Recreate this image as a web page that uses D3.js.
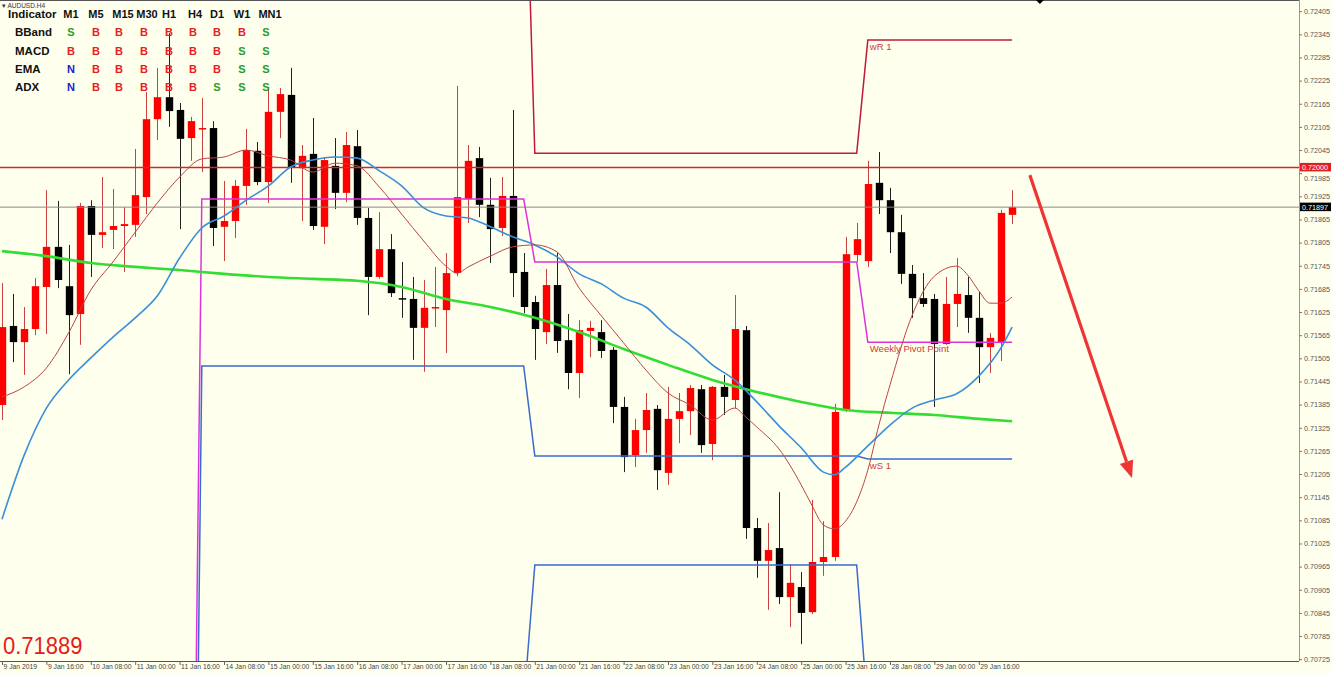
<!DOCTYPE html>
<html><head><meta charset="utf-8">
<script src="https://cdn.jsdelivr.net/npm/d3@7"></script>
<style>html,body{margin:0;padding:0;background:#ffffee;} svg{display:block}</style>
</head><body><svg id="c" width="1332" height="674"></svg>
<script>
// ---------------- DATA ----------------
const symbol = "AUDUSD.H4";
const timeLabels = ["9 Jan 2019","9 Jan 16:00","10 Jan 08:00","11 Jan 00:00","11 Jan 16:00","14 Jan 08:00","15 Jan 00:00","15 Jan 16:00","16 Jan 08:00","17 Jan 00:00","17 Jan 16:00","18 Jan 08:00","21 Jan 00:00","21 Jan 16:00","22 Jan 08:00","23 Jan 00:00","23 Jan 16:00","24 Jan 08:00","25 Jan 00:00","25 Jan 16:00","28 Jan 08:00","29 Jan 00:00","29 Jan 16:00"];
const labelBars = [0,4,8,12,16,20,24,28,32,36,40,44,48,52,56,60,64,68,72,76,80,84,88];
const priceTicks = [0.72405,0.72345,0.72285,0.72225,0.72165,0.72105,0.72045,0.71985,0.71925,0.71865,0.71805,0.71745,0.71685,0.71625,0.71565,0.71505,0.71445,0.71385,0.71325,0.71265,0.71205,0.71145,0.71085,0.71025,0.70965,0.70905,0.70845,0.70785,0.70725];

const open  = [0.71384,0.71589,0.71547,0.71581,0.71690,0.71794,0.71692,0.71620,0.71900,0.71825,0.71838,0.71848,0.71851,0.71923,0.72125,0.72182,0.72149,0.72076,0.72100,0.72102,0.71846,0.71861,0.71952,0.72043,0.71962,0.72144,0.72188,0.71998,0.72035,0.71846,0.72004,0.71934,0.72055,0.71869,0.71716,0.71788,0.71661,0.71659,0.71584,0.71636,0.71630,0.71726,0.71918,0.72024,0.71903,0.71843,0.71926,0.71729,0.71651,0.71573,0.71695,0.71552,0.71467,0.71576,0.71573,0.71527,0.71379,0.71254,0.71319,0.71374,0.71208,0.71348,0.71368,0.71425,0.71283,0.71431,0.71397,0.71578,0.71065,0.70980,0.71013,0.70886,0.70912,0.70847,0.70977,0.70990,0.71371,0.71773,0.71757,0.71960,0.71915,0.71832,0.71724,0.71661,0.71659,0.71542,0.71646,0.71669,0.71610,0.71534,0.71545,0.71877];
const high  = [0.71700,0.71672,0.71638,0.71713,0.71941,0.71913,0.71799,0.71908,0.71915,0.71975,0.71944,0.71897,0.72048,0.72195,0.72258,0.72348,0.72167,0.72131,0.72180,0.72120,0.71965,0.71967,0.72100,0.72066,0.72208,0.72206,0.72258,0.72058,0.72128,0.72027,0.72076,0.72092,0.72097,0.71895,0.71884,0.71827,0.71755,0.71716,0.71708,0.71742,0.71778,0.72211,0.72058,0.72053,0.71973,0.71975,0.72149,0.71778,0.71667,0.71737,0.71778,0.71620,0.71604,0.71602,0.71604,0.71534,0.71405,0.71348,0.71415,0.71384,0.71431,0.71415,0.71436,0.71436,0.71433,0.71462,0.71669,0.71589,0.71091,0.71078,0.71158,0.70972,0.70951,0.71138,0.71083,0.71387,0.71820,0.71856,0.72017,0.72040,0.71947,0.71877,0.71747,0.71726,0.71672,0.71716,0.71765,0.71716,0.71677,0.71571,0.71890,0.71941];
const low   = [0.71345,0.71495,0.71462,0.71565,0.71568,0.71687,0.71464,0.71540,0.71716,0.71791,0.71788,0.71729,0.71820,0.71879,0.72071,0.72105,0.71840,0.72017,0.71988,0.71796,0.71757,0.71817,0.71903,0.71954,0.71908,0.72076,0.71960,0.71861,0.71838,0.71801,0.71892,0.71910,0.71851,0.71617,0.71711,0.71664,0.71610,0.71501,0.71470,0.71586,0.71519,0.71718,0.71856,0.71871,0.71752,0.71822,0.71664,0.71622,0.71501,0.71542,0.71519,0.71425,0.71402,0.71508,0.71506,0.71337,0.71210,0.71223,0.71260,0.71164,0.71177,0.71285,0.71306,0.71260,0.71241,0.71358,0.71376,0.71037,0.70936,0.70853,0.70868,0.70808,0.70764,0.70842,0.70941,0.70980,0.71366,0.71755,0.71742,0.71879,0.71778,0.71698,0.71610,0.71638,0.71379,0.71540,0.71586,0.71571,0.71441,0.71467,0.71498,0.71853];
const close = [0.71586,0.71547,0.71581,0.71692,0.71794,0.71708,0.71617,0.71900,0.71825,0.71832,0.71848,0.71853,0.71928,0.72125,0.72182,0.72146,0.72074,0.72120,0.72102,0.71843,0.71861,0.71952,0.72045,0.71962,0.72144,0.72190,0.72001,0.72030,0.71848,0.72019,0.71934,0.72058,0.71869,0.71716,0.71788,0.71674,0.71659,0.71584,0.71636,0.71638,0.71726,0.71923,0.72017,0.71903,0.71840,0.71926,0.71726,0.71638,0.71581,0.71695,0.71550,0.71467,0.71578,0.71584,0.71524,0.71379,0.71249,0.71319,0.71371,0.71215,0.71348,0.71368,0.71428,0.71280,0.71431,0.71405,0.71581,0.71065,0.70980,0.71008,0.70886,0.70923,0.70845,0.70977,0.70990,0.71366,0.71775,0.71814,0.71957,0.71915,0.71832,0.71724,0.71661,0.71646,0.71542,0.71646,0.71672,0.71610,0.71534,0.71558,0.71882,0.71897];

// moving averages: [bar, price]
const maSlow = [[0,0.71783],[4,0.71770],[8,0.71752],[12,0.71742],[16,0.71734],[20,0.71724],[24,0.71716],[28,0.71711],[32,0.71706],[36,0.71690],[40,0.71659],[44,0.71638],[48,0.71610],[52,0.71573],[56,0.71529],[60,0.71488],[64,0.71449],[68,0.71418],[72,0.71392],[76,0.71371],[80,0.71364],[84,0.71358],[88,0.71348],[91,0.71342]];
const maMid = [[0,0.71088],[2,0.71254],[4,0.71376],[6,0.71449],[8,0.71506],[10,0.71560],[12,0.71610],[14,0.71667],[16,0.71765],[18,0.71843],[20,0.71874],[22,0.71915],[24,0.71952],[26,0.72001],[28,0.72019],[30,0.72027],[32,0.72024],[34,0.71991],[36,0.71952],[38,0.71895],[40,0.71874],[42,0.71869],[44,0.71846],[46,0.71820],[48,0.71799],[50,0.71768],[52,0.71724],[54,0.71698],[56,0.71661],[58,0.71638],[60,0.71584],[62,0.71540],[64,0.71488],[66,0.71449],[68,0.71392],[70,0.71330],[72,0.71273],[74,0.71210],[75,0.71203],[76,0.71223],[78,0.71278],[80,0.71332],[82,0.71376],[84,0.71397],[86,0.71413],[88,0.71459],[90,0.71532],[91,0.71586]];
const maFast = [[0,0.71405],[2,0.71431],[4,0.71480],[6,0.71571],[8,0.71682],[10,0.71755],[12,0.71832],[14,0.71908],[16,0.71975],[18,0.72022],[20,0.72027],[22,0.72045],[24,0.72030],[26,0.72019],[28,0.71988],[30,0.72011],[32,0.72004],[34,0.71949],[36,0.71879],[38,0.71809],[40,0.71744],[41,0.71726],[42,0.71742],[44,0.71770],[46,0.71794],[48,0.71799],[50,0.71781],[52,0.71687],[54,0.71615],[56,0.71545],[58,0.71475],[60,0.71415],[62,0.71384],[64,0.71345],[66,0.71376],[67,0.71353],[68,0.71327],[70,0.71270],[72,0.71177],[73,0.71122],[74,0.71073],[75,0.71063],[76,0.71083],[77,0.71133],[78,0.71215],[79,0.71332],[80,0.71436],[82,0.71617],[84,0.71718],[86,0.71744],[87,0.71721],[88,0.71680],[89,0.71648],[90,0.71648],[91,0.71664]];

// weekly pivot levels (week bar ranges)
const weekStart = [0,18,48,78];
const weekEnd   = [17,47,77,91];
const wR1    = [null,0.73000,0.72037,0.72330];
const wPivot = [0.69500,0.71918,0.71755,0.71547];
const wS1    = [0.69000,0.71485,0.71252,0.71244];
const wS2    = [null,0.70610,0.70969,0.70590];

const roundLevel = 0.72000;
const bidPrice = 0.71897;
const bigPrice = "0.71889";
const arrowFrom = [92.6, 0.71980];
const arrowTo   = [101.8, 0.71195];
const shiftMarkBar = 93.5;

const indCols = ["M1","M5","M15","M30","H1","H4","D1","W1","MN1"];
const indRows = ["BBand","MACD","EMA","ADX"];
const indSignals = [
  ["S","B","B","B","B","B","B","B","S"],
  ["B","B","B","B","B","B","B","S","S"],
  ["N","B","B","B","B","B","B","S","S"],
  ["N","B","B","B","B","B","S","S","S"]
];

// ---------------- LAYOUT ----------------
const W = 1332, H = 674, plotR = 1299, plotB = 661;
const svg = d3.select("#c");
const FONT = "'Liberation Sans', Arial, sans-serif";
svg.append("rect").attr("width",W).attr("height",H).attr("fill","#ffffee");

const x = d3.scaleLinear().domain([0,91]).range([2, 1012.1]);
const y = d3.scaleLinear().domain([0.707203, 0.72434]).range([plotB, 0]);

svg.append("defs").append("clipPath").attr("id","clip")
  .append("rect").attr("x",0).attr("y",0).attr("width",plotR).attr("height",plotB);
const plot = svg.append("g").attr("clip-path","url(#clip)");

// candles
const bars = d3.range(open.length);
const cg = plot.append("g");
bars.forEach(i => {
  const bull = close[i] >= open[i];
  const cx = Math.round(x(i)) + 0.5;
  cg.append("line").attr("x1",cx).attr("x2",cx)
    .attr("y1",y(high[i])).attr("y2",y(low[i]))
    .attr("stroke", bull ? "#cc4040" : "#222").attr("stroke-width",1);
  const top = y(Math.max(open[i],close[i])), bot = y(Math.min(open[i],close[i]));
  cg.append("rect").attr("x",cx-3.7).attr("width",7.4)
    .attr("y",top).attr("height",Math.max(1.5,bot-top))
    .attr("fill", bull ? "#ff0000" : "#000000");
});

// horizontal levels
plot.append("line").attr("x1",0).attr("x2",plotR).attr("y1",y(roundLevel)).attr("y2",y(roundLevel))
  .attr("stroke","#cc2a2a").attr("stroke-width",1.5);
plot.append("line").attr("x1",0).attr("x2",plotR).attr("y1",y(bidPrice)).attr("y2",y(bidPrice))
  .attr("stroke","#8a8a8a").attr("stroke-width",1);

// pivot lines
function pivotPts(vals){
  const pts = [];
  vals.forEach((v,w)=>{ pts.push([weekStart[w],v]); pts.push([weekEnd[w],v]); });
  return pts;
}
const pline = d3.line().defined(d=>d[1]!=null).x(d=>x(d[0])).y(d=>y(d[1]));
[[wR1,"#bf1a3c"],[wPivot,"#dd33dd"],[wS1,"#3a6ccc"],[wS2,"#3a6ccc"]].forEach(([v,c])=>{
  plot.append("path").attr("d",pline(pivotPts(v))).attr("fill","none")
    .attr("stroke",c).attr("stroke-width",1.5);
});
const lblColor = "#c8403c";
[["wR 1",wR1[3]],["Weekly Pivot Point",wPivot[3]],["wS 1",wS1[3]]].forEach(([t,v])=>{
  plot.append("text").attr("x",x(weekStart[3])+2).attr("y",y(v)+10)
    .attr("font-family",FONT).attr("font-size",9.5).attr("fill",lblColor).text(t);
});

// moving averages
const mline = d3.line().x(d=>x(d[0])).y(d=>y(d[1])).curve(d3.curveMonotoneX);
plot.append("path").attr("d",mline(maSlow)).attr("fill","none").attr("stroke","#33dd33").attr("stroke-width",2.6);
plot.append("path").attr("d",mline(maMid)).attr("fill","none").attr("stroke","#3a8fd9").attr("stroke-width",1.6);
plot.append("path").attr("d",mline(maFast)).attr("fill","none").attr("stroke","#bb4444").attr("stroke-width",1);

// arrow
(function(){
  const x0=x(arrowFrom[0]), y0=y(arrowFrom[1]), x1=x(arrowTo[0]), y1=y(arrowTo[1]);
  const a = Math.atan2(y1-y0, x1-x0), hl=17, hw=7;
  const bx = x1 - hl*Math.cos(a), by = y1 - hl*Math.sin(a);
  plot.append("line").attr("x1",x0).attr("y1",y0).attr("x2",bx).attr("y2",by)
    .attr("stroke","#ee3535").attr("stroke-width",3.2);
  const px = -Math.sin(a), py = Math.cos(a);
  plot.append("polygon").attr("fill","#ee3535")
    .attr("points",[[x1,y1],[bx+hw*px,by+hw*py],[bx-hw*px,by-hw*py]].map(p=>p.join(",")).join(" "));
})();

// top border and shift mark
svg.append("line").attr("x1",0).attr("x2",plotR).attr("y1",0.5).attr("y2",0.5).attr("stroke","#555");
svg.append("polygon").attr("fill","#000")
  .attr("points",[[x(shiftMarkBar)-4,0],[x(shiftMarkBar)+4,0],[x(shiftMarkBar),4]].map(p=>p.join(",")).join(" "));

// right axis
const ya = svg.append("g").attr("transform",`translate(${plotR},0)`)
  .call(d3.axisRight(y).tickValues(priceTicks).tickSize(3).tickPadding(2).tickFormat(d3.format(".5f")));
ya.select(".domain").attr("stroke","#999").attr("d",`M0.5,0V${plotB}`);
ya.selectAll(".tick line").attr("stroke","#777");
ya.selectAll("text").attr("font-family",FONT).attr("font-size",7.2).attr("fill","#555");
// the round-level box covers this label's upper half in the reference: nudge it below the box
ya.selectAll(".tick").filter(d=>Math.abs(d-roundLevel)<0.0002).select("text").attr("dy","0.95em");

// bottom axis
const xa = svg.append("g").attr("transform",`translate(0,${plotB})`)
  .call(d3.axisBottom(x).tickValues(labelBars).tickSize(4).tickFormat((d,k)=>timeLabels[k]));
xa.select(".domain").attr("stroke","#555").attr("d",`M0,0.5H${plotR}`);
xa.selectAll(".tick line").attr("stroke","#666");
xa.selectAll("text").attr("font-family",FONT).attr("font-size",6.8).attr("fill","#444")
  .attr("text-anchor","start").attr("x",1).attr("y",3).attr("dy","0.71em");

// price labels on axis
function priceBox(v, bg){
  const g = svg.append("g");
  g.append("rect").attr("x",plotR+1).attr("y",y(v)-4.5).attr("width",31).attr("height",8.5).attr("fill",bg);
  g.append("text").attr("x",plotR+3).attr("y",y(v)+2.4).attr("font-family",FONT).attr("font-size",7.2)
    .attr("fill","#fff").text(d3.format(".5f")(v));
}
priceBox(roundLevel,"#e02020");
priceBox(bidPrice,"#000");

// big price
svg.append("text").attr("x",3).attr("y",654).attr("font-family",FONT).attr("font-size",22)
  .attr("transform","translate(0,654) scale(1,1.12) translate(0,-654)")
  .attr("fill","#e31b1b").text(bigPrice);

// symbol label
svg.append("text").attr("x",2).attr("y",7.5).attr("font-family",FONT).attr("font-size",6.5)
  .attr("fill","#333").text("\u25BE " + symbol);

// indicator table
const colHead = [71,96,123,147,169,195,217,242,270];
const colVal  = [71,96,119,144,169,193,217,242,266];
const rowY = [36,55,73,91];
svg.append("text").attr("x",8).attr("y",18).attr("font-family",FONT).attr("font-size",11.5)
  .attr("font-weight","bold").attr("fill","#111").text("Indicator");
indCols.forEach((c,k)=>{
  svg.append("text").attr("x",colHead[k]).attr("y",18).attr("text-anchor","middle")
    .attr("font-family",FONT).attr("font-size",11).attr("font-weight","bold").attr("fill","#111").text(c);
});
const sigColor = {S:"#2a9a2a",B:"#e52222",N:"#2222cc"};
indRows.forEach((r,j)=>{
  svg.append("text").attr("x",15).attr("y",rowY[j]).attr("font-family",FONT).attr("font-size",11.5)
    .attr("font-weight","bold").attr("fill","#111").text(r);
  indSignals[j].forEach((s,k)=>{
    svg.append("text").attr("x",colVal[k]).attr("y",rowY[j]).attr("text-anchor","middle")
      .attr("font-family",FONT).attr("font-size",11).attr("font-weight","bold").attr("fill",sigColor[s]).text(s);
  });
});
</script></body></html>
